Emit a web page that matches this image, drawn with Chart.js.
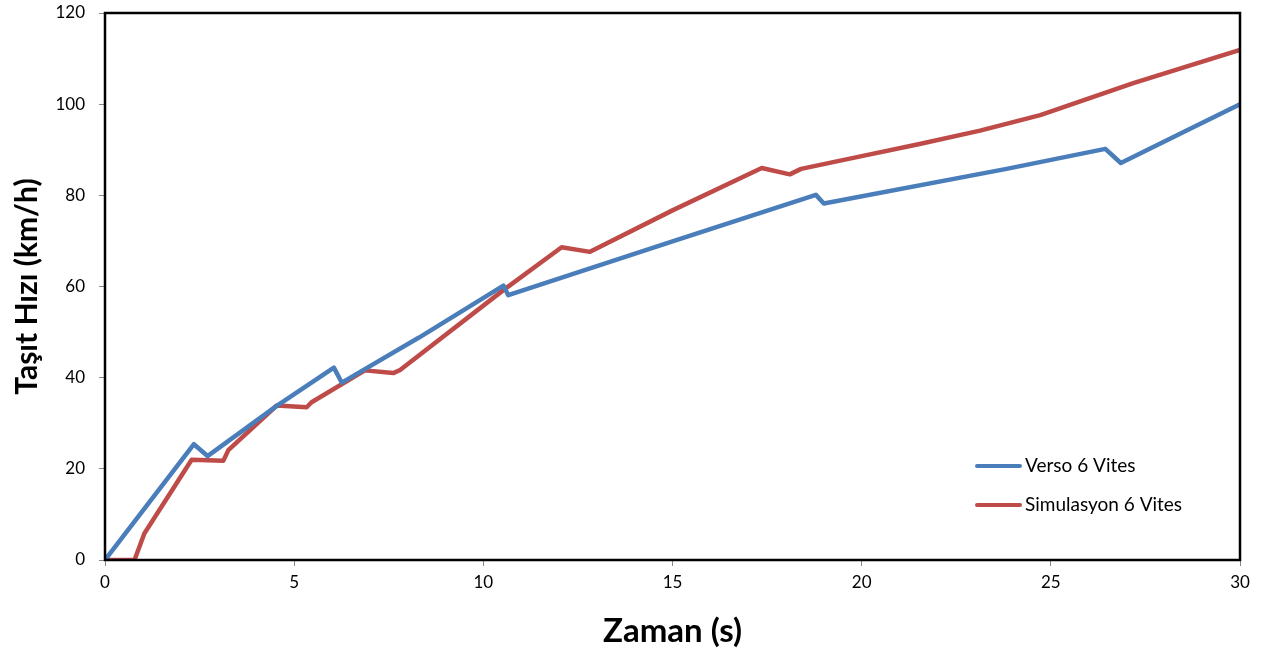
<!DOCTYPE html>
<html>
<head>
<meta charset="utf-8">
<script src="https://cdn.jsdelivr.net/npm/chart.js@4"></script>
<style>
  html, body { margin: 0; padding: 0; background: #fff; }
  #wrap { width: 1263px; height: 655px; }
</style>
</head>
<body>
<div id="wrap"><canvas id="hizChart" width="1263" height="655"></canvas></div>
<script>
// Verso 6 Vites (olcum)
const versoTime  = [0, 2.35, 2.71, 4.54, 6.05, 6.26, 8.3, 10.53, 10.66, 15, 18.79, 19.0, 23.83, 26.44, 26.85, 28.59, 30];
const versoSpeed = [0, 25.4, 22.8, 33.8, 42.2, 38.9, 48.8, 60.2, 58.1, 69.9, 80.1, 78.2, 85.8, 90.2, 87.1, 94.2, 100];

// Simulasyon 6 Vites
const simTime  = [0, 0.78, 1.04, 2.29, 3.13, 3.26, 4.54, 5.33, 5.46, 6.87, 7.62, 7.8, 10.53, 12.07, 12.82, 15, 17.36, 18.1, 18.4, 20, 21.5, 23.13, 24.72, 27.18, 30];
const simSpeed = [0, 0, 5.8, 22.0, 21.8, 24.1, 33.9, 33.5, 34.6, 41.6, 41.0, 41.7, 59.2, 68.6, 67.6, 76.7, 86.0, 84.6, 85.8, 88.6, 91.2, 94.2, 97.6, 104.6, 111.9];

const seriesNames = ['Verso 6 Vites', 'Simulasyon 6 Vites'];
const xTitle = 'Zaman (s)';
const yTitle = 'Taşıt Hızı (km/h)';

const fontFam = 'Lato, "Liberation Sans", sans-serif';

function toPoints(xs, ys) {
  return xs.map((x, i) => ({ x: x, y: ys[i] }));
}

// cerceve + grafik ici lejant
const framePlugin = {
  id: 'frame',
  afterDatasetsDraw(chart) {
    const { ctx, chartArea: a } = chart;
    ctx.save();
    ctx.strokeStyle = '#000';
    ctx.lineWidth = 2.5;
    ctx.strokeRect(a.left, a.top, a.right - a.left, a.bottom - a.top);

    const items = chart.data.datasets;
    const x0 = 977, y0 = 466, gap = 39;
    ctx.font = '19px ' + fontFam;
    ctx.textBaseline = 'middle';
    items.forEach((ds, i) => {
      const y = y0 + i * gap;
      ctx.strokeStyle = ds.borderColor;
      ctx.lineWidth = 4;
      ctx.lineCap = 'round';
      ctx.beginPath();
      ctx.moveTo(x0, y);
      ctx.lineTo(x0 + 43, y);
      ctx.stroke();
      ctx.fillStyle = '#000';
      ctx.fillText(ds.label, x0 + 48, y);
    });
    ctx.restore();
  }
};

function makeChart() {
  const ctx = document.getElementById('hizChart').getContext('2d');
  new Chart(ctx, {
    type: 'line',
    data: {
      datasets: [{
        label: seriesNames[0],
        data: toPoints(versoTime, versoSpeed),
        borderColor: '#4A7EBB',
        borderWidth: 4.5,
        pointRadius: 0,
        tension: 0,
        borderJoinStyle: 'round',
        borderCapStyle: 'round'
      }, {
        label: seriesNames[1],
        data: toPoints(simTime, simSpeed),
        borderColor: '#BE4B48',
        borderWidth: 4.5,
        pointRadius: 0,
        tension: 0,
        borderJoinStyle: 'round',
        borderCapStyle: 'round'
      }]
    },
    options: {
      responsive: false,
      animation: false,
      layout: { padding: { top: 13, right: 23, left: 0, bottom: 0 } },
      plugins: { legend: { display: false }, tooltip: { enabled: false } },
      scales: {
        x: {
          type: 'linear',
          min: 0, max: 30,
          ticks: { stepSize: 5, color: '#000', font: { size: 17, family: fontFam }, padding: 6 },
          grid: { drawOnChartArea: false, drawTicks: true, tickLength: 6, color: '#888' },
          border: { display: false },
          title: {
            display: true, text: xTitle, color: '#000',
            font: { size: 33, weight: 'bold', family: fontFam },
            padding: { top: 0, bottom: 4 }
          },
          afterFit(scale) { scale.height = 95; scale.paddingLeft = 0; scale.paddingRight = 0; }
        },
        y: {
          min: 0, max: 120,
          ticks: { stepSize: 20, color: '#000', font: { size: 17, family: fontFam }, padding: 14 },
          grid: { drawOnChartArea: false, drawTicks: true, tickLength: 6, color: '#888' },
          border: { display: false },
          title: {
            display: true, text: yTitle, color: '#000',
            font: { size: 30, weight: 'bold', family: fontFam },
            padding: { top: 9, bottom: 0 }
          },
          afterFit(scale) { scale.width = 105; scale.paddingTop = 0; scale.paddingBottom = 0; }
        }
      }
    },
    plugins: [framePlugin]
  });
}

document.addEventListener('DOMContentLoaded', makeChart);
</script>
</body>
</html>
